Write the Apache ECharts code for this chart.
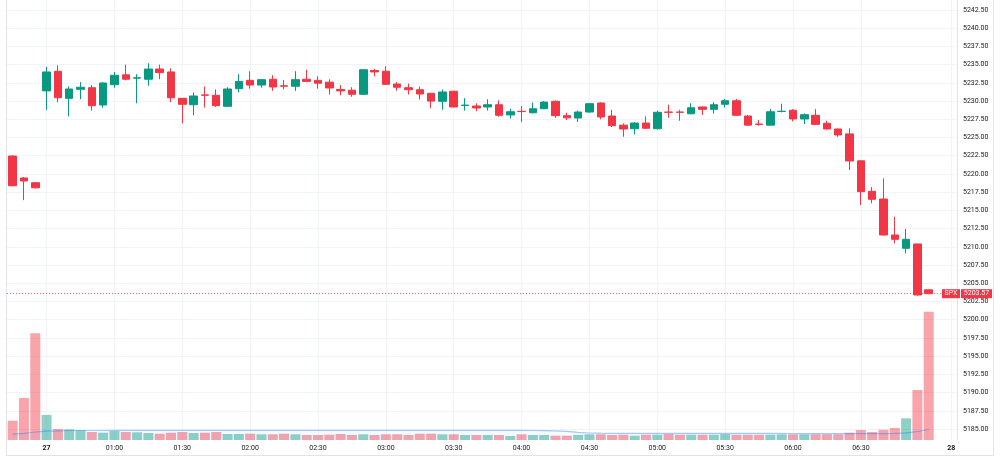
<!DOCTYPE html>
<html>
<head>
<meta charset="utf-8">
<title>SPX 5m</title>
<script src="https://cdn.jsdelivr.net/npm/echarts@6/dist/echarts.min.js"></script>
<style>
  html, body { margin: 0; padding: 0; background: #fff; }
  #chart { width: 1000px; height: 459px; }
</style>
</head>
<body>
<div id="chart"></div>
<script>
// 5 minute candles: last 3 bars of the 26th, the full session of the 27th
const opens = [
  5222.46, 5219.45, 5218.8,
  5231.4, 5234.09, 5230.38, 5231.62, 5231.84, 5229.46, 5232.25, 5233.6, 5233.15, 5233.0,
  5234.4, 5234.0, 5230.38, 5229.5, 5230.85, 5230.8, 5229.28, 5231.7, 5232.85, 5232.2,
  5233.0, 5232.1, 5232.03, 5233.0, 5232.85, 5232.6, 5231.6, 5231.5, 5230.93, 5234.2,
  5234.1, 5232.34, 5231.84, 5231.56, 5231.07, 5229.97, 5231.35, 5229.4, 5229.33, 5229.19,
  5229.5, 5228.1, 5228.6, 5228.4, 5228.95, 5229.97, 5228.0, 5227.68, 5228.5, 5229.74,
  5227.95, 5226.7, 5226.21, 5226.99, 5226.21, 5228.5, 5228.5, 5228.26, 5229.19, 5228.87,
  5229.56, 5230.05, 5227.95, 5226.85, 5226.7, 5228.58, 5228.74, 5227.55, 5228.05, 5226.95,
  5226.17, 5225.5, 5221.8, 5217.62, 5216.56, 5211.62, 5209.8, 5210.39, 5204.1
];
const closes = [
  5218.39, 5219.03, 5218.1,
  5234.0, 5230.46, 5231.66, 5231.9, 5229.37, 5232.48, 5233.54, 5233.0, 5233.2, 5234.4,
  5233.9, 5230.46, 5229.56, 5230.7, 5230.8, 5229.37, 5231.66, 5232.7, 5232.2, 5232.94,
  5231.93, 5232.05, 5232.94, 5232.7, 5232.45, 5231.8, 5231.4, 5230.93, 5234.3, 5234.0,
  5232.3, 5231.9, 5231.56, 5230.97, 5230.0, 5231.25, 5229.19, 5229.45, 5229.05, 5229.5,
  5228.05, 5228.54, 5228.56, 5228.95, 5229.86, 5228.0, 5227.7, 5228.5, 5229.64, 5227.82,
  5226.62, 5226.17, 5226.99, 5226.27, 5228.46, 5228.46, 5228.46, 5229.08, 5228.87, 5229.5,
  5230.05, 5228.05, 5226.7, 5226.8, 5228.54, 5228.6, 5227.55, 5228.13, 5226.81, 5226.17,
  5225.35, 5221.78, 5217.57, 5216.52, 5211.62, 5211.03, 5211.03, 5203.39, 5203.57
];
const lows = [
  5218.3, 5216.4, 5218.0,
  5228.8, 5229.83, 5227.9, 5230.25, 5228.7, 5229.1, 5231.84, 5232.85, 5229.7, 5232.1,
  5233.0, 5229.83, 5226.95, 5228.05, 5229.1, 5229.2, 5229.2, 5231.2, 5231.7, 5231.84,
  5231.4, 5231.6, 5231.4, 5232.6, 5231.7, 5230.9, 5230.8, 5230.6, 5230.9, 5233.4,
  5232.2, 5231.4, 5230.9, 5230.2, 5229.0, 5228.8, 5229.15, 5228.7, 5228.6, 5228.7,
  5227.86, 5227.6, 5227.1, 5228.3, 5228.9, 5227.7, 5227.4, 5227.13, 5228.4, 5227.5,
  5226.44, 5225.11, 5225.44, 5226.2, 5226.1, 5227.7, 5227.3, 5228.2, 5228.1, 5228.3,
  5229.1, 5228.0, 5226.65, 5226.62, 5226.65, 5228.45, 5227.22, 5226.85, 5226.7, 5226.1,
  5225.1, 5220.54, 5215.74, 5215.97, 5211.55, 5210.48, 5209.1, 5203.3, 5203.5
];
const highs = [
  5222.55, 5219.6, 5218.9,
  5234.7, 5234.9, 5232.0, 5232.6, 5232.2, 5232.6, 5234.0, 5235.0, 5233.7, 5235.2,
  5235.0, 5234.5, 5230.4, 5231.2, 5232.0, 5231.6, 5231.9, 5233.7, 5234.1, 5233.0,
  5233.55, 5232.9, 5234.1, 5234.3, 5233.4, 5233.0, 5232.2, 5231.9, 5234.35, 5234.4,
  5234.8, 5232.6, 5232.4, 5232.0, 5231.1, 5231.6, 5231.4, 5230.4, 5229.7, 5230.25,
  5230.1, 5228.95, 5229.33, 5229.8, 5230.0, 5230.1, 5228.4, 5228.7, 5229.7, 5229.85,
  5228.8, 5226.95, 5227.1, 5227.9, 5228.7, 5229.5, 5228.8, 5229.7, 5229.25, 5229.85,
  5230.3, 5230.3, 5228.1, 5227.4, 5228.9, 5229.64, 5228.9, 5228.3, 5228.9, 5227.3,
  5226.2, 5226.27, 5221.85, 5218.2, 5219.4, 5214.13, 5212.45, 5210.45, 5204.15
];
const volumes = [
  193, 420, 1067,
  250, 110, 107, 97, 80, 73, 90, 80, 77, 70,
  63, 73, 80, 70, 73, 80, 60, 60, 63, 57,
  57, 63, 57, 50, 50, 53, 60, 50, 57, 50,
  57, 57, 50, 63, 63, 57, 57, 50, 50, 50,
  50, 40, 57, 50, 50, 43, 43, 50, 57, 57,
  50, 53, 43, 53, 53, 60, 53, 53, 53, 53,
  60, 53, 53, 53, 53, 57, 57, 57, 57, 57,
  57, 73, 100, 80, 103, 120, 217, 500, 1283
];
const volumeMA = [
  58, 66, 80,
  88, 92, 95, 95, 95, 95, 96, 96, 96, 96,
  96, 96, 96, 96, 96, 96, 96, 96, 96, 96,
  96, 96, 96, 96, 96, 96, 96, 96, 96, 96,
  96, 96, 96, 96, 96, 96, 96, 96, 96, 96,
  96, 96, 96, 95, 94, 92, 86, 77, 70, 68,
  67, 67, 67, 67, 67, 67, 67, 67, 67, 67,
  67, 67, 67, 66, 66, 66, 65, 64, 64, 64,
  64, 64, 63, 63, 64, 66, 72, 85, 105
];
const prevDayTimes = ['06:50', '06:55', '07:00'];
const futureSlots = ['', ''];
// tick labels by bar index
const tickLabels = {
  3: '27', 9: '01:00', 15: '01:30', 21: '02:00', 27: '02:30', 33: '03:00', 39: '03:30',
  45: '04:00', 51: '04:30', 57: '05:00', 63: '05:30', 69: '06:00', 75: '06:30', 83: '28'
};
const dayLabels = ['27', '28'];

const pad = n => (n < 10 ? '0' : '') + n;
let sessionTimes = [];
for (let m = 30; m <= 420; m += 5) {
  sessionTimes.push(pad(Math.floor(m / 60)) + ':' + pad(m % 60));
}
const categories = prevDayTimes.concat(sessionTimes, futureSlots);

const UP = '#089981';
const DOWN = '#f23645';
const FONT = 'Roboto, "Noto Sans", sans-serif';
const lastClose = closes[closes.length - 1];

const chart = echarts.init(document.getElementById('chart'));

const grids = [
  {left: 7, right: 43, top: 0, bottom: 19},
  {left: 7, right: 43, top: 10, bottom: 30},
  {left: 7, right: 43, top: 300, bottom: 19}
];

chart.setOption({
  animation: false,
  backgroundColor: '#ffffff',
  grid: grids,
  xAxis: [
    {
      type: 'category', gridIndex: 0, data: categories, boundaryGap: true,
      axisLine: {show: false},
      axisTick: {show: false, alignWithLabel: true, interval: (i) => tickLabels[i] !== undefined},
      splitLine: {
        show: true, alignWithLabel: true,
        interval: (i) => tickLabels[i] !== undefined,
        lineStyle: {color: '#f0f3fa', width: 1}
      },
      axisLabel: {
        interval: (i) => tickLabels[i] !== undefined,
        formatter: (v, i) => {
          const t = tickLabels[i] || '';
          return dayLabels.includes(t) ? '{d|' + t + '}' : t;
        },
        margin: 5,
        fontSize: 7, color: '#131722', fontFamily: FONT,
        rich: {d: {fontSize: 7, fontWeight: 'bold', color: '#131722', fontFamily: FONT}}
      }
    },
    {type: 'category', gridIndex: 1, data: categories, show: false},
    {type: 'category', gridIndex: 2, data: categories, show: false}
  ],
  yAxis: [
    {
      type: 'value', gridIndex: 0, min: 0, max: 1, position: 'right',
      axisLine: {show: true, lineStyle: {color: '#e0e3eb'}},
      axisTick: {show: false}, axisLabel: {show: false}, splitLine: {show: false}
    },
    {
      type: 'value', gridIndex: 1, position: 'right',
      min: 5185, max: 5242.5, interval: 2.5, scale: true,
      axisLine: {show: false}, axisTick: {show: false},
      splitLine: {lineStyle: {color: '#f0f3fa', width: 1}},
      axisLabel: {
        formatter: v => v.toFixed(2), margin: 6,
        fontSize: 7, color: '#131722', fontFamily: FONT
      }
    },
    {
      type: 'value', gridIndex: 2, min: 0, max: 1400, show: false,
      splitLine: {show: false}
    }
  ],
  series: [
    {
      name: 'Volume', type: 'bar', xAxisIndex: 2, yAxisIndex: 2,
      barWidth: 10, z: 1,
      data: volumes.map((v, i) => ({
        value: v,
        itemStyle: {color: closes[i] >= opens[i] ? 'rgba(8,153,129,0.45)' : 'rgba(242,54,69,0.45)'}
      }))
    },
    {
      name: 'Vol MA', type: 'line', xAxisIndex: 2, yAxisIndex: 2,
      data: volumeMA, showSymbol: false, symbol: 'none', z: 2,
      lineStyle: {color: 'rgba(33,120,243,0.4)', width: 1.2},
      areaStyle: {color: 'rgba(33,150,243,0.07)'}
    },
    {
      name: 'SPX', type: 'candlestick', xAxisIndex: 1, yAxisIndex: 1,
      barWidth: 8, z: 3,
      data: opens.map((o, i) => [o, closes[i], lows[i], highs[i]]),
      itemStyle: {color: UP, color0: DOWN, borderColor: UP, borderColor0: DOWN, borderWidth: 1},
      markLine: {
        silent: true, symbol: ['none', 'none'],
        label: {show: false},
        lineStyle: {color: DOWN, type: [1, 2], width: 1, opacity: 0.8},
        data: [{yAxis: lastClose}]
      }
    }
  ]
});

// last price tags on the price scale
const yLast = chart.convertToPixel({yAxisIndex: 1}, lastClose);
chart.setOption({
  graphic: [
    {
      type: 'rect', silent: true, z: 100,
      shape: {x: 6.5, y: -1, width: 987, height: 456.5},
      style: {fill: 'none', stroke: '#e0e3eb', lineWidth: 1}
    },
    {
      type: 'rect', z: 101, shape: {x: 942, y: yLast - 4.5, width: 18, height: 9},
      style: {fill: DOWN}
    },
    {
      type: 'text', z: 102, x: 951, y: yLast,
      style: {text: 'SPX', fill: '#fff', fontSize: 7, fontFamily: FONT, align: 'center', verticalAlign: 'middle'}
    },
    {
      type: 'rect', z: 101, shape: {x: 961, y: yLast - 4.5, width: 31, height: 9},
      style: {fill: DOWN}
    },
    {
      type: 'text', z: 102, x: 976.5, y: yLast,
      style: {text: lastClose.toFixed(2), fill: '#fff', fontSize: 7, fontFamily: FONT, align: 'center', verticalAlign: 'middle'}
    }
  ]
});
</script>
</body>
</html>
